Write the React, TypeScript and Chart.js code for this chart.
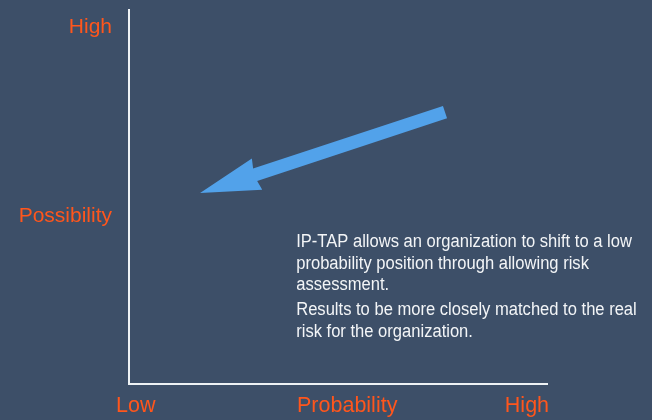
import React, { useEffect, useRef } from "react";
import { Chart, registerables } from "chart.js";

Chart.register(...registerables);

// ---- data ----
const xTickValues = [1.6, 52.2, 95.2];
const xTickLabels = ["Low", "Probability", "High"];
const yTickValues = [44.9, 95.4];
const yTickLabels = ["Possibility", "High"];
const arrowFrom = { x: 75.6, y: 72.7 };
const arrowTo = { x: 17.0, y: 51.1 };
const noteParagraphs = [
  [
    "IP-TAP allows an organization to shift to a low",
    "probability position through allowing risk",
    "assessment.",
  ],
  ["Results to be more closely matched to the real", "risk for the organization."],
];
const noteAnchor = { x: 40.0, y: 36.6 };

const BG = "#3d4f68";
const ORANGE = "#ff561c";
const AXIS = "#eef2f4";
const ARROW = "#52a2ea";
const TEXT = "#f3f5f7";
const FONT = "'Liberation Sans', Arial, sans-serif";

const arrowPlugin = {
  id: "arrowShape",
  afterDatasetsDraw(chart: any) {
    const meta = chart.getDatasetMeta(0);
    if (!meta || meta.data.length < 2) return;
    const t = meta.data[0];
    const p = meta.data[1];
    const dx = p.x - t.x;
    const dy = p.y - t.y;
    const len = Math.hypot(dx, dy);
    const ux = dx / len;
    const uy = dy / len;
    const nx = -uy;
    const ny = ux;
    const sw = 6.5; // shaft half width
    const hl = 58; // head length
    const hw = 16.5; // head half width
    const bx = p.x - ux * hl;
    const by = p.y - uy * hl;
    const ctx = chart.ctx;
    ctx.save();
    ctx.fillStyle = ARROW;
    ctx.beginPath();
    ctx.moveTo(t.x + nx * sw, t.y + ny * sw);
    ctx.lineTo(bx + nx * sw, by + ny * sw);
    ctx.lineTo(bx + nx * hw - ux * 2, by + ny * hw - uy * 2);
    ctx.lineTo(p.x, p.y);
    ctx.lineTo(bx - nx * hw - ux * 2, by - ny * hw - uy * 2);
    ctx.lineTo(bx - nx * sw, by - ny * sw);
    ctx.lineTo(t.x - nx * sw, t.y - ny * sw);
    ctx.closePath();
    ctx.fill();
    ctx.restore();
  },
};

const notePlugin = {
  id: "noteText",
  afterDraw(chart: any) {
    const ctx = chart.ctx;
    const x = chart.scales.x.getPixelForValue(noteAnchor.x);
    let y = chart.scales.y.getPixelForValue(noteAnchor.y);
    ctx.save();
    ctx.fillStyle = TEXT;
    ctx.font = `18px ${FONT}`;
    ctx.textBaseline = "alphabetic";
    ctx.textAlign = "left";
    noteParagraphs.forEach((para, pi) => {
      if (pi > 0) y += 3.5;
      para.forEach((line) => {
        ctx.save();
        ctx.translate(x, y);
        ctx.scale(0.92, 1);
        ctx.fillText(line, 0, 0);
        ctx.restore();
        y += 21.5;
      });
    });
    ctx.restore();
  },
};

export default function App() {
  const ref = useRef<HTMLCanvasElement | null>(null);

  useEffect(() => {
    if (!ref.current) return;
    const chart = new Chart(ref.current, {
      type: "scatter",
      data: {
        datasets: [
          {
            type: "line",
            data: [arrowFrom, arrowTo],
            showLine: false,
            pointRadius: 0,
            borderColor: ARROW,
            backgroundColor: ARROW,
          } as any,
        ],
      },
      options: {
        animation: false,
        responsive: false,
        events: [],
        layout: { padding: { left: 0, top: 10, right: 105, bottom: 0 } },
        plugins: {
          legend: { display: false },
          tooltip: { enabled: false },
        },
        scales: {
          x: {
            type: "linear",
            min: 0,
            max: 100,
            grid: { display: false, drawTicks: false },
            border: { display: true, color: AXIS, width: 2 },
            afterBuildTicks: (s: any) => {
              s.ticks = xTickValues.map((v) => ({ value: v }));
            },
            afterFit: (s: any) => {
              s.height = 36;
              s.paddingLeft = 0;
              s.paddingRight = 0;
              s.paddingTop = 0;
              s.paddingBottom = 0;
            },
            ticks: {
              autoSkip: false,
              maxRotation: 0,
              padding: 9,
              color: ORANGE,
              font: { family: FONT, size: 21.5 },
              callback: (_v: any, i: number) => xTickLabels[i],
            },
          },
          y: {
            type: "linear",
            min: 0,
            max: 100,
            grid: { display: false, drawTicks: false },
            border: { display: true, color: AXIS, width: 2 },
            afterBuildTicks: (s: any) => {
              s.ticks = yTickValues.map((v) => ({ value: v }));
            },
            afterFit: (s: any) => {
              s.width = 129;
              s.paddingLeft = 0;
              s.paddingRight = 0;
              s.paddingTop = 0;
              s.paddingBottom = 0;
            },
            ticks: {
              autoSkip: false,
              padding: 17,
              color: ORANGE,
              font: { family: FONT, size: 21 },
              callback: (_v: any, i: number) => yTickLabels[i],
            },
          },
        },
      } as any,
      plugins: [arrowPlugin, notePlugin],
    });
    return () => chart.destroy();
  }, []);

  return (
    <div
      style={{
        position: "fixed",
        left: 0,
        top: 0,
        width: 652,
        height: 420,
        background: BG,
        overflow: "hidden",
      }}
    >
      <canvas ref={ref} width={652} height={420} style={{ display: "block" }} />
    </div>
  );
}
